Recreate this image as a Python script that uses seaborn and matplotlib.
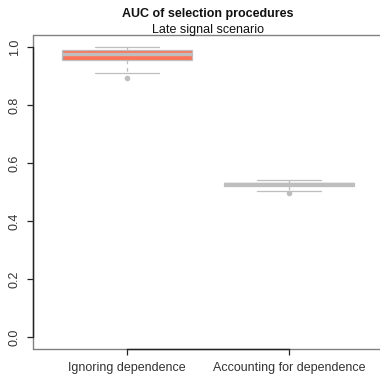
import numpy as np
import pandas as pd
import matplotlib
matplotlib.use("Agg")
import matplotlib.pyplot as plt
from matplotlib.lines import Line2D
import seaborn as sns

# ---- data ----
groups = ["Ignoring dependence", "Accounting for dependence"]
auc_ignoring = [0.894, 0.909, 0.955, 0.965, 0.975, 0.982, 0.990, 0.995, 1.000]
auc_accounting = [0.497, 0.505, 0.519, 0.522, 0.526, 0.528, 0.531, 0.537, 0.542]
yticks = [0.0, 0.2, 0.4, 0.6, 0.8, 1.0]
yticklabels = ["0.0", "0.2", "0.4", "0.6", "0.8", "1.0"]
title = "AUC of selection procedures"
subtitle = "Late signal scenario"

df = pd.DataFrame({
    "group": [groups[0]] * len(auc_ignoring) + [groups[1]] * len(auc_accounting),
    "auc": auc_ignoring + auc_accounting,
})

sns.set_style("white")
plt.rcParams["font.family"] = ["Liberation Sans", "DejaVu Sans"]

W, H = 380, 374
fig = plt.figure(figsize=(W / 100, H / 100), dpi=100)
ax = fig.add_axes([33 / W, 25.4 / H, 350 / W, 313.2 / H])

fill = "#FF7256"
edge = "#BEBEBE"
sns.boxplot(
    data=df, x="group", y="auc", ax=ax,
    color=fill, saturation=1, width=0.8,
    linecolor=edge, linewidth=0.9,
    whiskerprops={"linestyle": (0, (3, 3)), "color": edge, "linewidth": 0.9},
    capprops={"color": edge, "linewidth": 0.9},
    medianprops={"color": edge, "linewidth": 2.5},
    flierprops={"marker": "o", "markerfacecolor": edge, "markeredgecolor": edge,
                "markersize": 3},
)

ax.set_xlim(-0.58, 1.58)
ax.set_ylim(-0.04, 1.04)
ax.set_xlabel("")
ax.set_ylabel("")
ax.set_yticks(yticks)
ax.set_yticklabels(yticklabels, rotation=90, va="center")

for s in ["top", "right"]:
    ax.spines[s].set_visible(False)
for s in ["left", "bottom"]:
    ax.spines[s].set_color("#222222")
    ax.spines[s].set_linewidth(1.0)
    ax.spines[s].set_zorder(5)
ax.spines["bottom"].set_bounds(0, 1)
ax.spines["left"].set_bounds(0, 1)

frame = "#808080"
for xs, ys in [([0, 0], [0, 1]), ([0, 1.1], [1, 1]), ([0, 1.1], [0, 0])]:
    ax.add_line(Line2D(xs, ys, transform=ax.transAxes, color=frame,
                       linewidth=1.0, clip_on=False, zorder=4))

ax.tick_params(axis="both", direction="out", length=4.3, width=0.9,
               color="#222222", labelsize=9, labelcolor="#333333",
               bottom=True, left=True)
ax.tick_params(axis="y", pad=4.5)
ax.tick_params(axis="x", pad=5)

x_mid = 33 / W + 350 / W / 2
fig.text(x_mid, 1 - 17 / H, title, ha="center", va="baseline",
         fontsize=9, fontweight="bold", color="#111111")
fig.text(x_mid, 1 - 33 / H, subtitle, ha="center", va="baseline",
         fontsize=9, color="#111111")

fig.savefig("out.png", dpi=100)
